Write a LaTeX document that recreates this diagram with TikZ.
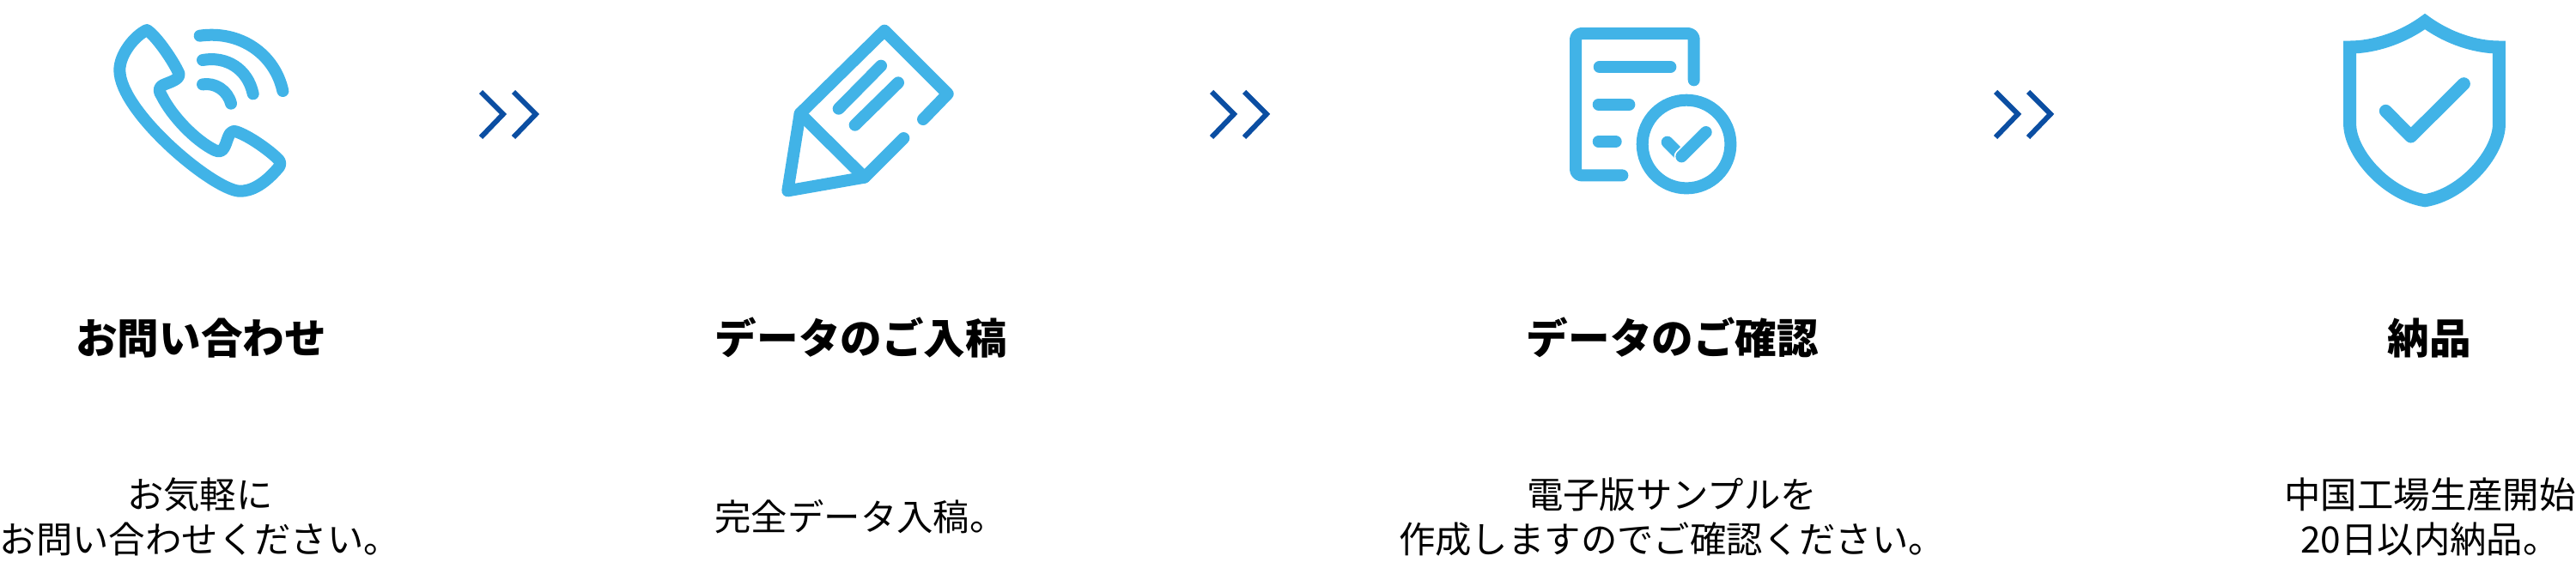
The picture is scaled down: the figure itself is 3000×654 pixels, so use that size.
\documentclass[tikz,border=0pt]{standalone}
\usepackage{fontspec}
\newfontfamily\jp{Noto Sans CJK JP}
\definecolor{iconblue}{HTML}{41B3E7}
\definecolor{chevblue}{HTML}{0B4EA2}
\tikzset{
  iconline/.style={draw=iconblue,line width=7pt,line cap=round,line join=round},
  chev/.style={draw=chevblue,line width=3pt,line cap=butt,line join=miter},
  heading/.style={font=\jp\bfseries\fontsize{24.3pt}{28pt}\selectfont,text=black,inner sep=0pt,anchor=base},
  body/.style={font=\jp\fontsize{21.2pt}{26pt}\selectfont,text=black,inner sep=0pt,align=center,anchor=center}
}
\begin{document}
\begin{tikzpicture}[x=0.5pt,y=-0.5pt]
\useasboundingbox (0,0) rectangle (3000,654);
% phone
\begin{scope}[shift={(100,0)},x=0.1667pt,y=-0.1667pt]
\draw[iconline] (213,105) .. controls (245,125) and (300,205) .. (322,250)
  .. controls (332,268) and (320,275) .. (300,285) -- (275,295)
  .. controls (250,305) and (255,320) .. (265,335)
  .. controls (300,405) and (380,490) .. (450,525)
  .. controls (475,535) and (480,525) .. (490,500)
  .. controls (500,470) and (505,455) .. (525,460)
  .. controls (570,475) and (640,525) .. (670,555)
  .. controls (685,570) and (680,580) .. (665,595)
  .. controls (625,640) and (580,670) .. (535,668)
  .. controls (440,660) and (118,390) .. (118,245)
  .. controls (118,190) and (170,125) .. (213,105) -- cycle;
\draw[iconline] (398,125) .. controls (540,105) and (660,190) .. (688,318);
\draw[iconline] (408,210) .. controls (490,195) and (565,240) .. (584,328);
\draw[iconline] (408,295) .. controls (450,288) and (495,315) .. (507,362);
\end{scope}
% pencil
\begin{scope}[shift={(860,0)},x=0.1667pt,y=-0.1667pt]
\draw[iconline] (645,417) -- (731,328) -- (510,107) -- (215,397) -- (172,667) -- (440,620) -- (577,483);
\draw[iconline] (215,397) -- (440,620);
\draw[iconline] (350,380) -- (498,230);
\draw[iconline] (407,437) -- (558,289);
\end{scope}
% document
\begin{scope}[shift={(1780,0)},x=0.1667pt,y=-0.1667pt]
\draw[iconline,rounded corners=3.5pt] (578,280) -- (578,117) -- (165,117) -- (165,613) -- (328,613);
\draw[iconline] (248,234) -- (496,234);
\draw[iconline] (245,365) -- (352,365);
\draw[iconline] (245,495) -- (305,495);
\draw[iconline] (552,504) circle (154);
\draw[iconline] (485,497) -- (530,542);
\draw[draw=white,line width=8.8pt,line cap=round] (535,547) -- (620,462);
\draw[iconline] (535,547) -- (620,462);
\end{scope}
% shield
\begin{scope}[shift={(2680,0)},x=0.1667pt,y=-0.1667pt]
\draw[iconline,line width=7.5pt,line join=miter] (432,75) .. controls (350,135) and (250,165) .. (170,165)
  -- (170,440) .. controls (175,540) and (300,680) .. (432,701)
  .. controls (564,680) and (686,540) .. (691,440) -- (691,165)
  .. controls (610,165) and (514,135) .. (432,75) -- cycle;
\draw[iconline,line width=7.5pt] (295,388) -- (383,477) -- (568,293);
\end{scope}
% chevrons
\foreach \o in {0,851,1764}{
  \draw[chev] ({560+\o},107) -- ({586+\o},133) -- ({560+\o},160);
  \draw[chev] ({598+\o},107) -- ({624+\o},133) -- ({598+\o},160);
}
% text
\node[heading] (h1) at (234,412) {お問い合わせ};
\node[heading] (h2) at (1003,412) {データのご入稿};
\node[heading] (h3) at (1948,412) {データのご確認};
\node[heading] (h4) at (2829,412) {納品};
\node[body] (b1) at (233,602) {お気軽に\\お問い合わせください。};
\node[body] (b2) at (1002,602) {完全データ入稿。};
\node[body] (b3) at (1947,602) {電子版サンプルを\\作成しますのでご確認ください。};
\node[body] (b4) at (2830,602) {中国工場生産開始\\20日以内納品。};
\end{tikzpicture}
\end{document}
